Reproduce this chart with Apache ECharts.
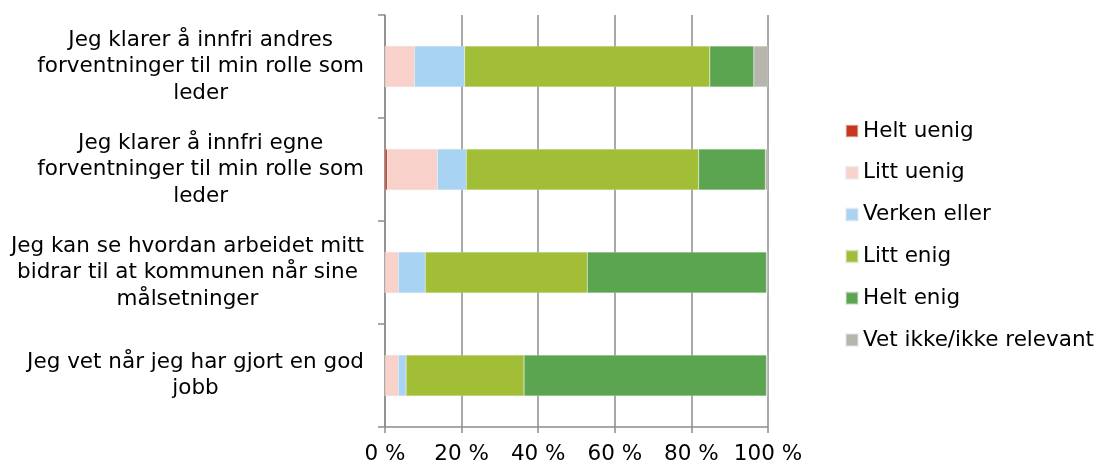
<!DOCTYPE html>
<html>
<head>
<meta charset="utf-8">
<script src="https://cdn.jsdelivr.net/npm/echarts@6/dist/echarts.min.js"></script>
<style>
  html, body { margin: 0; padding: 0; background: #fff; }
  #chart { width: 1100px; height: 463px; }
</style>
</head>
<body>
<div id="chart"></div>
<script>
// Survey statements (top to bottom)
var categories = [
  'Jeg klarer å innfri andres\nforventninger til min rolle som\nleder',
  'Jeg klarer å innfri egne\nforventninger til min rolle som\nleder',
  'Jeg kan se hvordan arbeidet mitt\nbidrar til at kommunen når sine\nmålsetninger',
  'Jeg vet når jeg har gjort en god\njobb'
];

// Share of answers per statement, in percent
var heltUenig   = [0.0, 0.6, 0.0, 0.0];
var littUenig   = [7.7, 13.1, 3.5, 3.5];
var verkenEller = [13.1, 7.5, 7.0, 2.0];
var littEnig    = [64.0, 60.7, 42.3, 30.8];
var heltEnig    = [11.5, 17.4, 46.8, 63.3];
var vetIkke     = [3.7, 0.7, 0.4, 0.4];

var seriesNames = ['Helt uenig', 'Litt uenig', 'Verken eller', 'Litt enig', 'Helt enig', 'Vet ikke/ikke relevant'];
var seriesData = [heltUenig, littUenig, verkenEller, littEnig, heltEnig, vetIkke];
var seriesColors = ['#c8361c', '#f9d1cb', '#a8d3f3', '#a1be36', '#5ba550', '#b7b6ad'];

// Axis tick values
var xTicks = [0, 20, 40, 60, 80, 100];

var FONT = '"DejaVu Sans", Verdana, sans-serif';
var FS = 21.5;
var AXIS_GRAY = '#8c8c8c';

var chart = echarts.init(document.getElementById('chart'), null, { renderer: 'canvas' });

chart.setOption({
  animation: false,
  backgroundColor: '#fff',
  textStyle: { fontFamily: FONT, color: '#000' },
  grid: { left: 385, right: 332, top: 15, bottom: 36, containLabel: false, outerBoundsMode: 'none' },
  legend: {
    orient: 'vertical',
    left: 845,
    top: 120,
    padding: 0,
    itemWidth: 12,
    itemHeight: 12,
    itemGap: 19.8,
    icon: 'rect',
    textStyle: { fontFamily: FONT, fontSize: FS, color: '#000', lineHeight: 21 },
    data: seriesNames
  },
  xAxis: {
    type: 'value',
    min: xTicks[0],
    max: xTicks[xTicks.length - 1],
    interval: xTicks[1] - xTicks[0],
    axisLine: { show: true, lineStyle: { color: AXIS_GRAY, width: 1.5 } },
    axisTick: { show: true, length: 6, lineStyle: { color: AXIS_GRAY, width: 1.5 } },
    splitLine: { show: true, lineStyle: { color: AXIS_GRAY, width: 1.5 } },
    axisLabel: {
      fontFamily: FONT, fontSize: FS, color: '#000', margin: 16,
      formatter: function (v) { return v + ' %'; }
    }
  },
  yAxis: {
    type: 'category',
    inverse: true,
    data: categories,
    axisLine: { show: true, lineStyle: { color: AXIS_GRAY, width: 1.5 } },
    axisTick: { show: true, length: 7, lineStyle: { color: AXIS_GRAY, width: 1.5 } },
    axisLabel: {
      margin: 21,
      align: 'right',
      formatter: function (v) {
        return v.split('\n').map(function (l) { return '{c|' + l + '}'; }).join('\n');
      },
      rich: {
        c: { align: 'center', fontFamily: FONT, fontSize: FS, lineHeight: 26.5, color: '#000' }
      }
    }
  },
  series: seriesNames.map(function (name, i) {
    return {
      name: name,
      type: 'bar',
      stack: 'total',
      barWidth: 41,
      itemStyle: {
        color: seriesColors[i],
        borderColor: 'rgba(230,230,230,0.5)',
        borderWidth: 0.5
      },
      emphasis: { disabled: true },
      data: seriesData[i]
    };
  })
});
</script>
</body>
</html>
